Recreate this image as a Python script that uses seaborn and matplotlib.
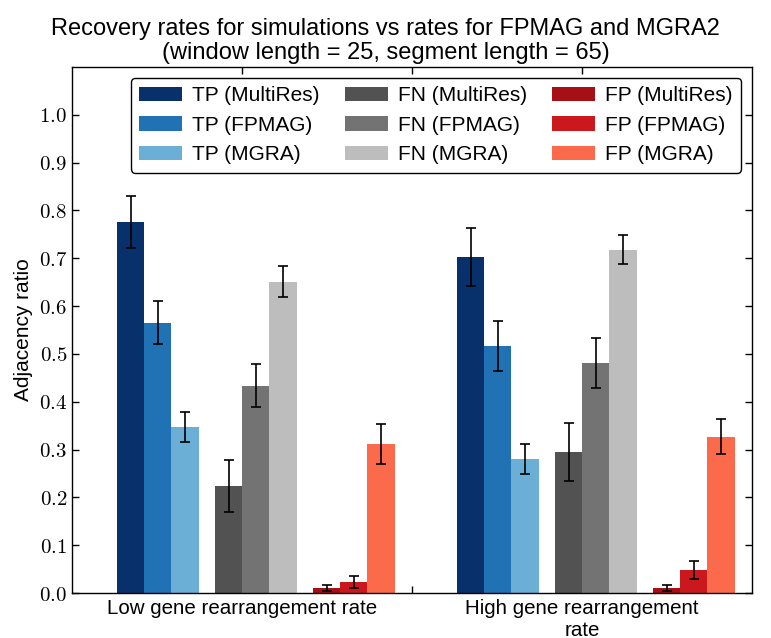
import numpy as np
import pandas as pd
import matplotlib
matplotlib.use('Agg')
import matplotlib.pyplot as plt
from matplotlib.ticker import FuncFormatter
import seaborn as sns

# data
conditions = ['Low gene rearrangement rate', 'High gene rearrangement\nrate']
series = ['TP (MultiRes)', 'TP (FPMAG)', 'TP (MGRA)',
          'FN (MultiRes)', 'FN (FPMAG)', 'FN (MGRA)',
          'FP (MultiRes)', 'FP (FPMAG)', 'FP (MGRA)']
low_vals = [0.776, 0.565, 0.347, 0.224, 0.433, 0.651, 0.011, 0.023, 0.312]
low_err = [0.055, 0.045, 0.032, 0.054, 0.045, 0.032, 0.006, 0.012, 0.042]
high_vals = [0.703, 0.517, 0.280, 0.295, 0.481, 0.718, 0.011, 0.048, 0.327]
high_err = [0.061, 0.052, 0.031, 0.061, 0.052, 0.031, 0.006, 0.018, 0.037]

colors = ['#08306b', '#2171b5', '#6baed6',
          '#525252', '#737373', '#bdbdbd',
          '#a50f15', '#cb181d', '#fb6a4a']

sns.set_style('ticks')
plt.rcParams['font.family'] = ['Liberation Sans', 'DejaVu Sans']
plt.rcParams['mathtext.fontset'] = 'cm'
plt.rcParams['text.color'] = 'black'
plt.rcParams['axes.labelcolor'] = 'black'
plt.rcParams['xtick.color'] = 'black'
plt.rcParams['ytick.color'] = 'black'
plt.rcParams['xtick.direction'] = 'in'
plt.rcParams['ytick.direction'] = 'in'
plt.rcParams['xtick.top'] = True
plt.rcParams['ytick.right'] = True

df = pd.DataFrame({'series': series * 2,
                   'condition': [conditions[0]] * 9 + [conditions[1]] * 9,
                   'value': low_vals + high_vals,
                   'err': low_err + high_err})

fig = plt.figure(figsize=(7.71, 6.38), dpi=100)
ax = fig.add_axes([0.0934, 0.0705, 0.8820, 0.8245])

width = 0.16
for i, s in enumerate(series):
    sub = df[df['series'] == s]
    grp, k = divmod(i, 3)
    xs = np.arange(len(conditions)) * 2 + 0.265 + grp * 0.5765 + k * width
    ax.bar(xs, sub['value'], width, align='edge', color=colors[i], linewidth=0,
           label=s, yerr=sub['err'],
           error_kw=dict(ecolor='black', elinewidth=1.2, capsize=3.6, capthick=1.2))

ax.set_xlim(0, 4)
ax.set_ylim(0, 1.1)
ax.set_xticks([1, 2, 3])
ax.set_xticklabels([conditions[0], '', conditions[1]], fontsize=14.8)
ax.set_yticks(np.arange(0, 1.01, 0.1))
ax.yaxis.set_major_formatter(FuncFormatter(lambda v, p: r'$%.1f$' % v))
ax.tick_params(axis='y', labelsize=15, length=5, width=1)
ax.tick_params(axis='x', length=5, width=1, pad=4)
for sp in ax.spines.values():
    sp.set_color('black')
    sp.set_linewidth(1)

ax.set_ylabel('Adjacency ratio', fontsize=15)
# title is centred on the figure, not on the axes
ax.set_title('Recovery rates for simulations vs rates for FPMAG and MGRA2\n'
             '(window length = 25, segment length = 65)', fontsize=17,
             x=0.461, pad=6, linespacing=1.1)

leg = ax.legend(loc='upper right', ncol=3, fontsize=15, fancybox=True,
                framealpha=1, edgecolor='black', handlelength=2.06,
                handleheight=0.69, handletextpad=0.48, columnspacing=1.22,
                borderaxespad=0.53, labelspacing=0.5)
leg.get_frame().set_linewidth(1)

plt.savefig('out.png', dpi=100)
